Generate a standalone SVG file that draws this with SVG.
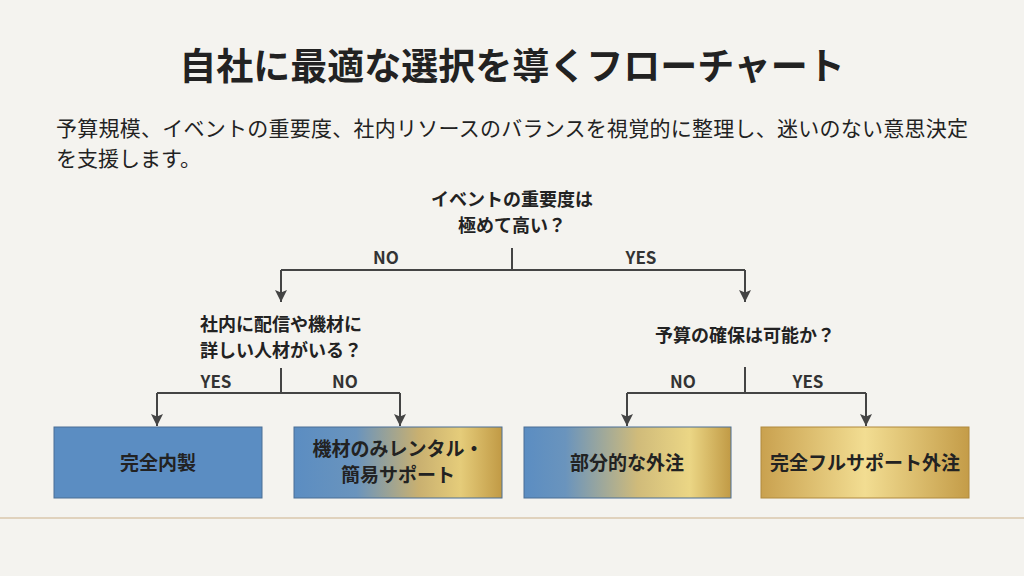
<svg xmlns="http://www.w3.org/2000/svg" width="1024" height="576" viewBox="0 0 1024 576">
<defs>
<style>
text{font-family:"Noto Sans CJK JP","Noto Sans",sans-serif;fill:#222}
.q{font-size:18px;font-weight:700;text-anchor:middle}
.l{font-size:17px;font-weight:700;text-anchor:middle;fill:#333}
.b{font-size:19px;font-weight:700;text-anchor:middle}
.c{stroke:#444;stroke-width:2;fill:none}
.box{stroke:#4a6f95;stroke-width:1}
</style>
<marker id="a" viewBox="0 0 10 10" markerWidth="12" markerHeight="12" refX="10" refY="5" orient="auto" markerUnits="userSpaceOnUse"><path d="M0,0 L10,5 L0,10 L2,5 Z" fill="#444"/></marker>
<linearGradient id="bg" x1="0" x2="1"><stop offset="0" stop-color="#5b8dc2"/><stop offset="0.3" stop-color="#6a94bd"/><stop offset="0.6" stop-color="#c9b070"/><stop offset="0.8" stop-color="#e5cc7a"/><stop offset="1" stop-color="#c19a45"/></linearGradient>
<linearGradient id="bg2" x1="0" x2="1"><stop offset="0" stop-color="#5b8dc2"/><stop offset="0.2" stop-color="#6a94bd"/><stop offset="0.55" stop-color="#d0bb7a"/><stop offset="0.8" stop-color="#ebd685"/><stop offset="1" stop-color="#c19a45"/></linearGradient>
<linearGradient id="g" x1="0" x2="1"><stop offset="0" stop-color="#c9a14f"/><stop offset="0.5" stop-color="#f2dd92"/><stop offset="1" stop-color="#c49c48"/></linearGradient>
</defs>
<rect width="1024" height="576" fill="#f4f3ef"/>
<text x="512" y="80" font-size="37" font-weight="700" text-anchor="middle" fill="#333">自社に最適な選択を導くフローチャート</text>
<text x="56" y="136" font-size="21" textLength="912">予算規模、イベントの重要度、社内リソースのバランスを視覚的に整理し、迷いのない意思決定</text>
<text x="56" y="166" font-size="21">を支援します。</text>
<g id="connectors">
<path class="c" d="M512,248 V270"/>
<path class="c" d="M281,270 H745"/>
<path class="c" d="M281,270 V302" marker-end="url(#a)"/>
<path class="c" d="M745,270 V302" marker-end="url(#a)"/>
<path class="c" d="M281,368 V393"/>
<path class="c" d="M157,393 H400"/>
<path class="c" d="M157,393 V426" marker-end="url(#a)"/>
<path class="c" d="M400,393 V426" marker-end="url(#a)"/>
<path class="c" d="M745,367 V393"/>
<path class="c" d="M627,393 H866"/>
<path class="c" d="M627,393 V426" marker-end="url(#a)"/>
<path class="c" d="M866,393 V426" marker-end="url(#a)"/>
<text class="l" x="386" y="264">NO</text>
<text class="l" x="641" y="264">YES</text>
<text class="l" x="216" y="388">YES</text>
<text class="l" x="345" y="388">NO</text>
<text class="l" x="683" y="388">NO</text>
<text class="l" x="808" y="388">YES</text>
</g>
<g id="q1"><text class="q" x="512" y="206">イベントの重要度は</text><text class="q" x="512" y="232">極めて高い？</text></g>
<g id="q2"><text class="q" x="281" y="331">社内に配信や機材に</text><text class="q" x="281" y="357">詳しい人材がいる？</text></g>
<g id="q3"><text class="q" x="745" y="342">予算の確保は可能か？</text></g>
<g id="n1"><rect class="box" x="54" y="427" width="208" height="71" fill="#5b8dc2"/><text class="b" x="158" y="470">完全内製</text></g>
<g id="n2"><rect class="box" x="294" y="427" width="208" height="71" fill="url(#bg)"/><text class="b" x="398" y="456">機材のみレンタル・</text><text class="b" x="398" y="482">簡易サポート</text></g>
<g id="n3"><rect class="box" x="524" y="427" width="207" height="71" fill="url(#bg2)"/><text class="b" x="627" y="470">部分的な外注</text></g>
<g id="n4"><rect x="761" y="427" width="208" height="71" fill="url(#g)" stroke="#b08a3e"/><text class="b" x="865" y="470">完全フルサポート外注</text></g>
<line x1="0" y1="518" x2="1024" y2="518" stroke="#e0d2bd" stroke-width="2"/>
</svg>
